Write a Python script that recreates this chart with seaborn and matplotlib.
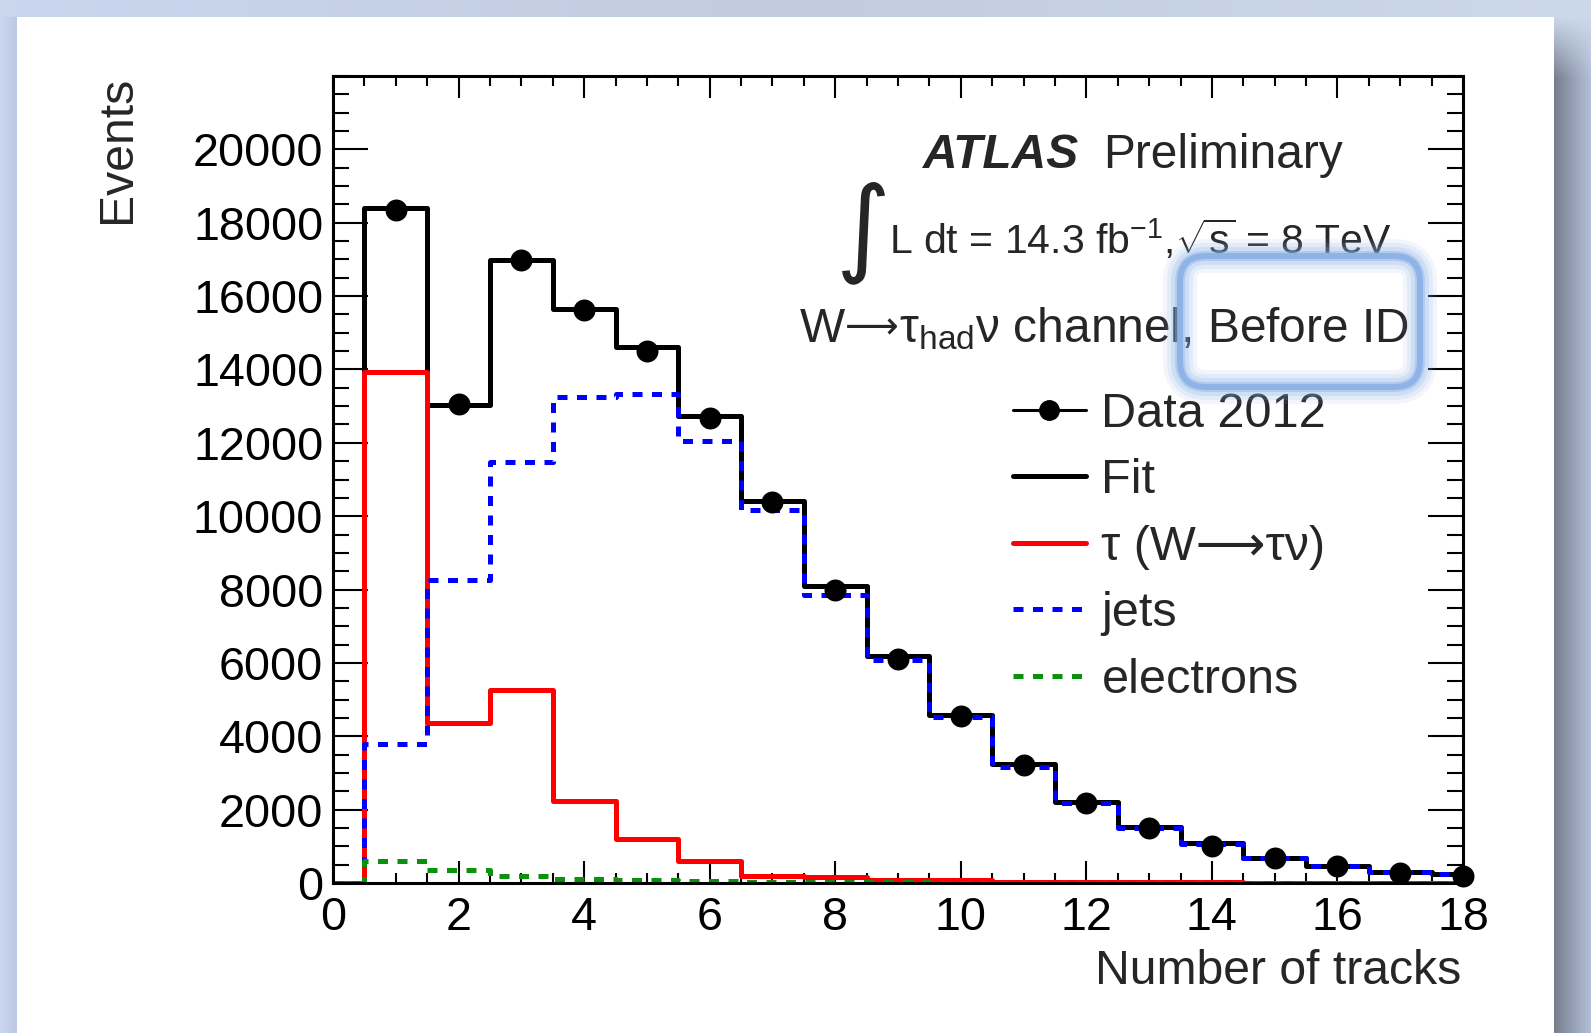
import numpy as np
import pandas as pd
import matplotlib
matplotlib.use("Agg")
import matplotlib.pyplot as plt
import seaborn as sns
from matplotlib.lines import Line2D
from matplotlib.patches import FancyBboxPatch
from matplotlib.transforms import IdentityTransform
from matplotlib.ticker import FixedLocator, MultipleLocator

# ---------------- data ----------------
n_tracks = list(range(1, 19))
data_2012 = [18340, 13050, 16980, 15620, 14490, 12690, 10390, 8000, 6120,
             4540, 3210, 2190, 1500, 1020, 670, 470, 280, 190]
fit_total = [18390, 13020, 16980, 15650, 14600, 12740, 10420, 8090, 6180,
             4570, 3240, 2220, 1520, 1080, 690, 470, 300, 250]
tau_sig = [13930, 4350, 5260, 2240, 1190, 610, 190, 170, 90,
           80, 40, 30, 20, 15, 10, 8, 5, 3]
jets_bkg = [3800, 8250, 11470, 13240, 13320, 12050, 10170, 7840, 6090,
            4520, 3160, 2190, 1500, 1060, 680, 460, 290, 240]
electrons_bkg = [600, 360, 200, 110, 70, 50, 35, 25, 15,
                 10, 5, 3, 2, 1, 1, 0, 0, 0]
y_ticks = [0, 2000, 4000, 6000, 8000, 10000, 12000, 14000, 16000, 18000, 20000]
x_ticks = [0, 2, 4, 6, 8, 10, 12, 14, 16, 18]
legend_labels = ["Data 2012", "Fit", "τ (W⟶τν)", "jets", "electrons"]

# ---------------- style ----------------
sns.set_style("ticks")
plt.rcParams["font.family"] = ["Liberation Sans", "DejaVu Sans"]
plt.rcParams["mathtext.fontset"] = "custom"
plt.rcParams["mathtext.rm"] = "Liberation Sans"
plt.rcParams["mathtext.it"] = "Liberation Sans:italic"
plt.rcParams["mathtext.bf"] = "Liberation Sans:bold"
plt.rcParams["mathtext.sf"] = "Liberation Sans"

W, H = 1591, 1033
fig = plt.figure(figsize=(W / 100, H / 100), dpi=100)

def fx(px):
    return px / W

def fy(py):
    return 1 - py / H

# ---------------- slide background ----------------
bg = np.ones((H, W, 3))
xs = np.linspace(0, 1, W)[None, :, None]
c_left = np.array([0.79, 0.84, 0.93])
c_right = np.array([0.80, 0.85, 0.92])
c_mid = np.array([0.76, 0.80, 0.88])
outer = np.where(xs < 0.5, c_left + (c_mid - c_left) * xs * 2,
                 c_mid + (c_right - c_mid) * (xs - 0.5) * 2)
bg[:] = outer
bg[17:, 17:1554] = 1.0
lx = np.linspace(0, 1, 17)[None, :, None]
bg[17:, :17] = np.array([0.79, 0.84, 0.93]) * (1 - lx) + np.array([0.74, 0.79, 0.90]) * lx
rx = np.linspace(0, 1, W - 1554)[None, :, None]
shadow = np.array([0.47, 0.50, 0.56]) * (1 - rx) + np.array([0.70, 0.75, 0.85]) * rx
fade = np.clip((np.arange(H) - 17) / 60.0, 0, 1)[:, None, None]
bg[:, 1554:] = outer[:, 1554:] * (1 - fade) + shadow * fade
bax = fig.add_axes([0, 0, 1, 1], zorder=-5)
bax.imshow(bg, aspect="auto", interpolation="bilinear")
bax.axis("off")

# ---------------- main axes ----------------
ax = fig.add_axes([fx(333), fy(883), (1463 - 333) / W, (883 - 76) / H], zorder=1)
ax.set_facecolor("white")

lw = 3.6
dots = (0, (2.0, 1.9))
pad_x = [0] + n_tracks
def padded(v):
    return [0] + list(v)

sns.histplot(x=pad_x, weights=padded(fit_total), discrete=True, element="step",
             fill=False, color="black", linewidth=lw, ax=ax, zorder=2)
sns.histplot(x=pad_x, weights=padded(tau_sig), discrete=True, element="step",
             fill=False, color="#ff0000", linewidth=lw, ax=ax, zorder=3)
sns.histplot(x=pad_x, weights=padded(jets_bkg), discrete=True, element="step",
             fill=False, color="#0000ff", linewidth=lw, linestyle=dots,
             ax=ax, zorder=4)
sns.histplot(x=pad_x, weights=padded(electrons_bkg), discrete=True, element="step",
             fill=False, color="#0a920a", linewidth=lw, linestyle=dots,
             ax=ax, zorder=5)
sns.scatterplot(x=n_tracks, y=data_2012, color="black", s=250, linewidth=0,
                zorder=6, clip_on=False, legend=False, ax=ax)

ax.set_xlim(0, 18)
ax.set_ylim(0, 22000)
ax.set_xlabel("")
ax.set_ylabel("")
ax.xaxis.set_major_locator(FixedLocator(x_ticks))
ax.xaxis.set_minor_locator(MultipleLocator(0.5))
ax.yaxis.set_major_locator(FixedLocator(y_ticks))
ax.yaxis.set_minor_locator(MultipleLocator(500))
ax.set_xticklabels([str(t) for t in x_ticks])
ax.set_yticklabels([str(t) for t in y_ticks])

for s in ax.spines.values():
    s.set_visible(True)
    s.set_linewidth(2.2)
    s.set_color("black")
    s.set_zorder(10)

ax.tick_params(which="both", direction="in", top=True, right=True,
               width=1.5, colors="black", labelsize=33.7)
ax.tick_params(axis="y", which="major", length=25, pad=7)
ax.tick_params(axis="y", which="minor", length=11.5)
ax.tick_params(axis="x", which="major", length=16, pad=9)
ax.tick_params(axis="x", which="minor", length=7.5)

# axis titles
fig.text(fx(117), fy(76), "Events", rotation=90, ha="center", va="top", fontsize=34.7)
fig.text(fx(1461), fy(984), "Number of tracks", ha="right", va="baseline", fontsize=34.7)

# ---------------- annotations ----------------
fig.text(fx(923), fy(168), "ATLAS", fontweight="bold", fontstyle="italic",
         ha="left", va="baseline", fontsize=34.5)
fig.text(fx(1103), fy(168), "Preliminary", ha="left", va="baseline", fontsize=34.5)
fig.text(fx(836), fy(233), "∫", ha="left", va="center", fontsize=76,
         family=["DejaVu Sans"])
fig.text(fx(889), fy(254), r"L dt = 14.3 fb$^{\mathrm{-1}}$,$\sqrt{\mathrm{s}}$ = 8 TeV",
         ha="left", va="baseline", fontsize=29.5)

renderer = fig.canvas.get_renderer()
ch_size = 34.5
t1 = fig.text(fx(800), fy(342), "W", ha="left", va="baseline", fontsize=ch_size)
e1 = t1.get_window_extent(renderer=renderer)
t2 = fig.text(e1.x1 / W, fy(338), "⟶", ha="left", va="baseline", fontsize=27,
              family=["DejaVu Sans"])
e2 = t2.get_window_extent(renderer=renderer)
fig.text(e2.x1 / W, fy(342), r"$\mathrm{\tau}_{\mathrm{had}}\mathrm{\nu}$ channel, Before ID",
         ha="left", va="baseline", fontsize=ch_size)

# ---------------- legend ----------------
handles = [
    Line2D([], [], color="black", lw=2.2, marker="o", markersize=14),
    Line2D([], [], color="black", lw=lw),
    Line2D([], [], color="#ff0000", lw=lw),
    Line2D([], [], color="#0000ff", lw=lw, linestyle=dots),
    Line2D([], [], color="#0a920a", lw=lw, linestyle=dots),
]
leg = fig.legend(handles, legend_labels, loc="upper left",
                 bbox_to_anchor=(fx(1013), fy(392)), frameon=False,
                 fontsize=35, handlelength=1.5, handletextpad=0.32,
                 labelspacing=0.44, borderpad=0, borderaxespad=0)

# ---------------- highlight box ----------------
x0, x1 = 1180, 1420
y0, y1 = H - 387, H - 256
for lwb, alpha in [(34, 0.10), (26, 0.14), (18, 0.2), (10, 0.38), (6, 0.8)]:
    p = FancyBboxPatch((x0, y0), x1 - x0, y1 - y0,
                       boxstyle="round,pad=0,rounding_size=26",
                       transform=IdentityTransform(), facecolor="none",
                       edgecolor="#86aee6", linewidth=lwb * 0.72, alpha=alpha,
                       zorder=20)
    fig.add_artist(p)

fig.savefig("out.png", dpi=100)
